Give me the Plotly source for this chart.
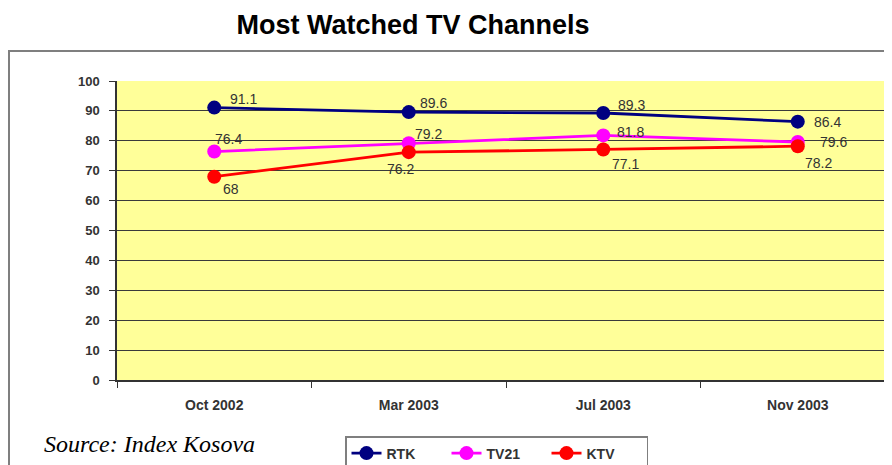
import plotly.graph_objects as go

categories = ["Oct 2002", "Mar 2003", "Jul 2003", "Nov 2003"]
rtk = [91.1, 89.6, 89.3, 86.4]
tv21 = [76.4, 79.2, 81.8, 79.6]
ktv = [68, 76.2, 77.1, 78.2]
y_ticks = [0, 10, 20, 30, 40, 50, 60, 70, 80, 90, 100]

# page body adds an 8px offset; work in reference pixel coords minus 8
OFF = 8
W, H = 892, 465
L = 117 - OFF
T = 81 - OFF
PLOT_BOTTOM = 380 - OFF
R = 0
B = H - PLOT_BOTTOM
pw = W - R - L
ph = PLOT_BOTTOM - T
UNIT = 194.5

FONT = "Arial, Liberation Sans, sans-serif"
label_font = dict(family=FONT, size=14, color="#333333")

series = [
    ("RTK", rtk, "#000080", [(29, 9), (25, 9), (28, 8), (30, 0)]),
    ("TV21", tv21, "#FF00FF", [(14, 13), (20, 9), (27, 3), (36, 0)]),
    ("KTV", ktv, "#FF0000", [(17, -12), (-8, -17), (22, -15), (21, -17)]),
]

fig = go.Figure()
annotations = []
for name, vals, color, offs in series:
    fig.add_trace(go.Scatter(
        x=categories, y=vals, name=name, mode="lines+markers",
        line=dict(color=color, width=2.8), marker=dict(size=14, color=color),
        cliponaxis=False))
    for c, v, (dx, dy) in zip(categories, vals, offs):
        annotations.append(dict(x=c, y=v, xref="x", yref="y", text="%g" % v,
                                showarrow=False, xshift=dx, yshift=dy,
                                xanchor="center", yanchor="middle", font=label_font))

annotations.append(dict(text="<i>Source: Index Kosova</i>", xref="paper", yref="paper",
                        x=(42 - OFF - L) / pw, y=-(444 - 380) / ph, xanchor="left",
                        yanchor="middle", showarrow=False,
                        font=dict(family="Liberation Serif, Times New Roman, serif", size=24,
                                  color="black")))

# outer chart frame (extends beyond the window on right and bottom)
fig.add_shape(type="rect", xref="paper", yref="paper",
              x0=(9 - OFF - L) / pw, x1=1.05, y0=-0.5, y1=1 + (81 - 51) / ph,
              line=dict(color="#7f7f7f", width=2), fillcolor="rgba(0,0,0,0)", layer="below")

fig.update_layout(
    width=W, height=H,
    margin=dict(l=L, r=R, t=T, b=B),
    paper_bgcolor="white",
    plot_bgcolor="#FFFF99",
    title=dict(text="<b>Most Watched TV Channels</b>", xref="container", yref="container",
               x=(413 - OFF) / W, y=1 - (25 - OFF) / H, xanchor="center", yanchor="middle",
               font=dict(family=FONT, size=27, color="black")),
    xaxis=dict(type="category", range=[-0.5, -0.5 + pw / UNIT],
               tickson="boundaries", ticks="outside", ticklen=6, tickcolor="#333333",
               showline=True, linecolor="#333333", linewidth=1.5, showgrid=False,
               tickfont=dict(family=FONT, size=14, color="#333333", weight="bold"),
               ticklabelstandoff=11),
    yaxis=dict(range=[0, 100], tickvals=y_ticks, ticks="outside", ticklen=6, tickcolor="#333333",
               showline=True, linecolor="#333333", linewidth=1.5,
               showgrid=True, gridcolor="#3a3a3a", gridwidth=1, zeroline=False,
               tickfont=dict(family=FONT, size=13, color="#333333", weight="bold"),
               ticklabelstandoff=7),
    legend=dict(orientation="h", xref="container", yref="container",
                x=(345 - OFF) / W, y=1 - (436 - OFF) / H, xanchor="left", yanchor="top",
                bgcolor="white", bordercolor="#7f7f7f", borderwidth=1.5,
                font=dict(family=FONT, size=14, color="#333333", weight="bold"),
                entrywidth=55, entrywidthmode="pixels"),
    showlegend=True,
    annotations=annotations,
)

fig.write_html("out.html")
